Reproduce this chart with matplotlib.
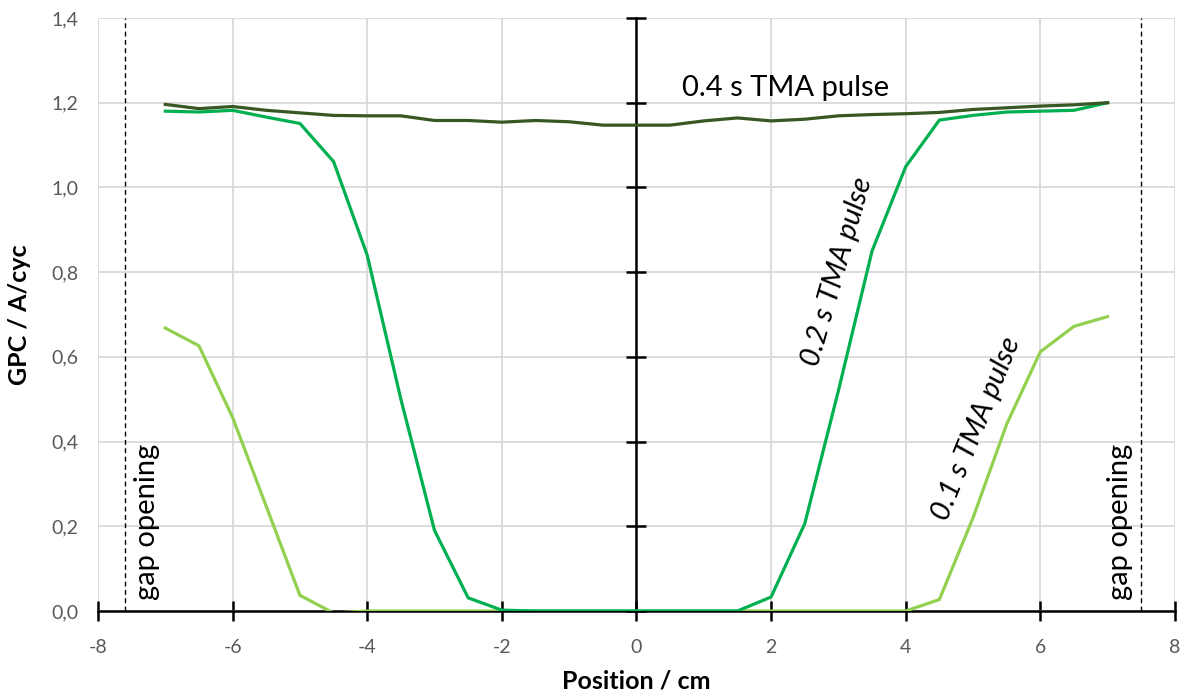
import matplotlib
matplotlib.use("Agg")
import matplotlib.pyplot as plt
import numpy as np

plt.rcParams['font.family'] = ['Lato', 'DejaVu Sans']
plt.rcParams['axes.unicode_minus'] = False

position = [-7, -6.5, -6, -5.5, -5, -4.5, -4, -3.5, -3, -2.5, -2, -1.5, -1, -0.5,
            0, 0.5, 1, 1.5, 2, 2.5, 3, 3.5, 4, 4.5, 5, 5.5, 6, 6.5, 7]

gpc_04s = [1.196, 1.186, 1.191, 1.182, 1.176, 1.170, 1.169, 1.169, 1.158, 1.158,
           1.154, 1.158, 1.155, 1.147, 1.147, 1.147, 1.157, 1.164, 1.157, 1.161,
           1.169, 1.172, 1.174, 1.177, 1.184, 1.188, 1.192, 1.195, 1.200]

gpc_02s = [1.180, 1.178, 1.182, 1.166, 1.151, 1.061, 0.840, 0.500, 0.190, 0.031,
           0.002, 0.0, 0.0, 0.0, 0.0, 0.0, 0.0, 0.0, 0.033, 0.206,
           0.520, 0.850, 1.049, 1.159, 1.170, 1.178, 1.180, 1.182, 1.200]

gpc_01s = [0.668, 0.626, 0.457, 0.247, 0.037, -0.005, 0.0, 0.0, 0.0, 0.0,
           0.0, 0.0, 0.0, 0.0, 0.0, 0.0, 0.0, 0.0, 0.0, 0.0,
           0.0, 0.0, 0.0, 0.027, 0.220, 0.441, 0.612, 0.672, 0.695]

gap_positions = [-7.6, 7.5]
x_ticks = [-8, -6, -4, -2, 0, 2, 4, 6, 8]
y_ticks = [0.0, 0.2, 0.4, 0.6, 0.8, 1.0, 1.2, 1.4]
y_ticklabels = ["0,0", "0,2", "0,4", "0,6", "0,8", "1,0", "1,2", "1,4"]

rect = [0.0822, 0.1234, 0.9857 - 0.0822, 0.9742 - 0.1234]
fig = plt.figure(figsize=(11.92, 6.97), dpi=100)

# axes carrying only the y tick labels at the left edge
ax_lab = fig.add_axes(rect, frameon=False)
ax_lab.set_xlim(-8, 8)
ax_lab.set_ylim(0, 1.4)
ax_lab.set_yticks(y_ticks)
ax_lab.set_yticklabels(y_ticklabels)
ax_lab.set_xticks([])
ax_lab.tick_params(axis='y', length=0, pad=14, labelsize=14, labelcolor='#595959')
ax_lab.set_ylabel('GPC / A/cyc', fontsize=18, fontweight='bold')
ax_lab.yaxis.set_label_coords(-0.062, 0.5)

ax = fig.add_axes(rect)
ax.set_xlim(-8, 8)
ax.set_ylim(0, 1.4)

ax.plot(position, gpc_01s, color='#92D050', lw=2.3, zorder=3)
ax.plot(position, gpc_02s, color='#00B050', lw=2.3, zorder=3)
ax.plot(position, gpc_04s, color='#385723', lw=2.3, zorder=4)

for gx in gap_positions:
    ax.axvline(gx, color='black', lw=1.0, ls=(0, (3.5, 2.5)), zorder=2)

ax.set_xticks(x_ticks)
ax.set_yticks(y_ticks)
ax.grid(True, color='#d9d9d9', lw=1.3, zorder=0)
ax.set_axisbelow(True)

for s in ['top', 'right']:
    ax.spines[s].set_visible(False)
ax.spines['left'].set_position(('data', 0))
for s in ['left', 'bottom']:
    ax.spines[s].set_color('black')
    ax.spines[s].set_linewidth(1.8)
    ax.spines[s].set_zorder(2.5)

ax.tick_params(axis='y', direction='inout', length=14, width=1.8, color='black',
               labelleft=False)
ax.tick_params(axis='x', direction='inout', length=14, width=1.8, color='black',
               pad=13, labelsize=14, labelcolor='#595959')

ax.set_xlabel('Position / cm', fontsize=18, fontweight='bold')
ax.xaxis.set_label_coords(0.5, -0.098)

ax.text(0.68, 1.235, '0.4 s TMA pulse', fontsize=21, ha='left', va='center')
ax.text(2.98, 0.80, '0.2 s TMA pulse', fontsize=21, style='italic', rotation=74,
        ha='center', va='center', rotation_mode='anchor')
ax.text(5.05, 0.43, '0.1 s TMA pulse', fontsize=21, style='italic', rotation=68,
        ha='center', va='center', rotation_mode='anchor')
ax.text(-7.27, 0.21, 'gap opening', fontsize=21, rotation=90, ha='center', va='center')
ax.text(7.18, 0.21, 'gap opening', fontsize=21, rotation=90, ha='center', va='center')

fig.savefig('out.png', dpi=100)
